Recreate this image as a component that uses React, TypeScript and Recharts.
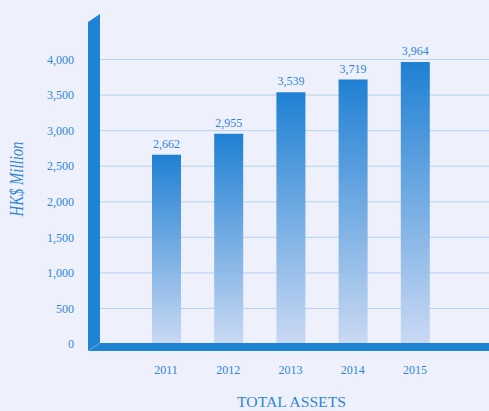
import React from "react";
import {
  Bar,
  BarChart,
  CartesianGrid,
  LabelList,
  XAxis,
  YAxis,
  Label,
} from "recharts";

const years = ["2011", "2012", "2013", "2014", "2015"];
const totalAssets = [2662, 2955, 3539, 3719, 3964];
const yTicks = [0, 500, 1000, 1500, 2000, 2500, 3000, 3500, 4000];

const data = years.map((year, i) => ({ year, value: totalAssets[i] }));

const W = 489;
const H = 411;
const BLUE = "#1e83d2";
const TEXT = "#2f86d6";
const BG = "#eef1fb";
const SERIF = "'Liberation Serif', 'Times New Roman', serif";

const fmt = (n: number) => n.toLocaleString("en-US");

// the thick "3D" axis frame drawn over the chart
function AxisFrame() {
  return (
    <svg
      width={W}
      height={H}
      style={{ position: "absolute", left: 0, top: 0, pointerEvents: "none" }}
    >
      <polygon points="88,22 100,14 100,351 88,351" fill={BLUE} />
      <rect x={88} y={343} width={W - 88} height={8} fill={BLUE} />
      <line x1={88} y1={351} x2={100} y2={343} stroke="#6fa9e0" strokeWidth={1} />
    </svg>
  );
}

function gridRows(props: any) {
  const s = props?.yAxis?.scale;
  const f = typeof s === "function" ? s : s?.map ?? s?.scale;
  if (typeof f !== "function") return [];
  return yTicks.map((t) => f.call(s, t));
}

export default function App() {
  return (
    <div
      style={{
        position: "fixed",
        left: 0,
        top: 0,
        width: W,
        height: H,
        background: BG,
        fontFamily: SERIF,
      }}
    >
      <BarChart
        width={W}
        height={H}
        data={data}
        margin={{ top: 24, right: 0, bottom: 0, left: 0 }}
      >
        <defs>
          <linearGradient id="gBar" x1="0" y1="0" x2="0" y2="1">
            <stop offset="0%" stopColor="#1f80d3" />
            <stop offset="100%" stopColor="#cad9f3" />
          </linearGradient>
        </defs>
        <CartesianGrid
          stroke="#b9d0ee"
          vertical={false}
          horizontalCoordinatesGenerator={gridRows}
        />
        <XAxis
          dataKey="year"
          height={67}
          axisLine={false}
          tickLine={false}
          tickSize={0}
          tickMargin={21}
          padding={{ left: 35, right: 43 }}
          tick={{ fill: TEXT, fontSize: 12, fontFamily: SERIF }}
        >
          <Label
            content={() => (
              <text
                x={291.5}
                y={407}
                textAnchor="middle"
                fill={TEXT}
                fontSize={15}
                fontFamily={SERIF}
                textLength={109}
                lengthAdjust="spacingAndGlyphs"
              >
                TOTAL ASSETS
              </text>
            )}
          />
        </XAxis>
        <YAxis
          width={100}
          domain={[0, 4500]}
          ticks={yTicks}
          tickFormatter={fmt}
          axisLine={false}
          tickLine={false}
          tickSize={0}
          tickMargin={26}
          tick={{ fill: TEXT, fontSize: 12, fontFamily: SERIF }}
        >
          <Label
            content={() => (
              <text
                x={23}
                y={179}
                transform="rotate(-90 23 179)"
                textAnchor="middle"
                fill={TEXT}
                fontSize={18}
                fontStyle="italic"
                fontFamily={SERIF}
                textLength={75}
                lengthAdjust="spacingAndGlyphs"
              >
                HK$ Million
              </text>
            )}
          />
        </YAxis>
        <Bar
          dataKey="value"
          fill="url(#gBar)"
          barSize={29}
          isAnimationActive={false}
        >
          <LabelList
            dataKey="value"
            position="top"
            offset={7}
            formatter={(v: any) => fmt(Number(v))}
            style={{ fill: TEXT, fontSize: 12, fontFamily: SERIF }}
          />
        </Bar>
      </BarChart>
      <AxisFrame />
    </div>
  );
}
